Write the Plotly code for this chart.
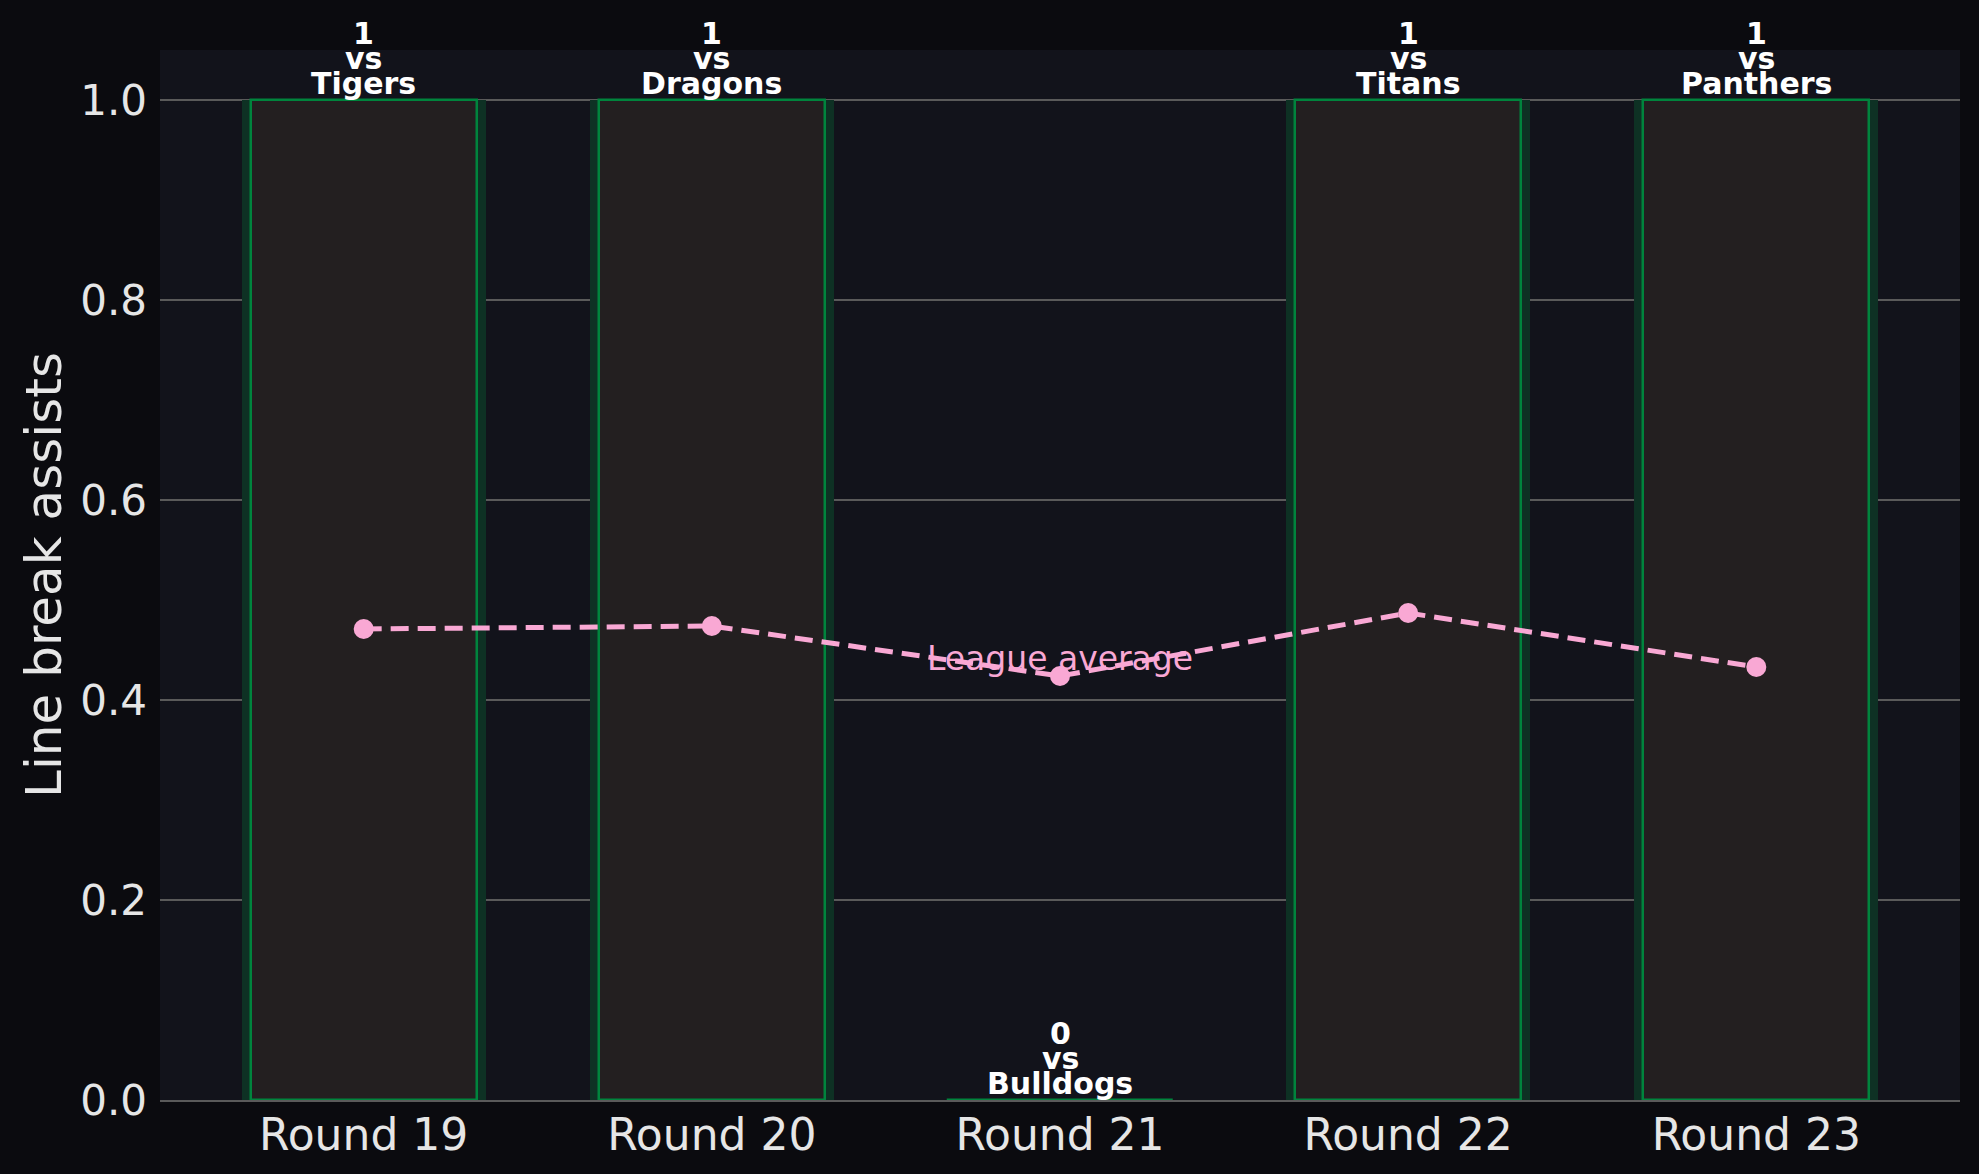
import plotly.graph_objects as go

rounds = ["Round 19", "Round 20", "Round 21", "Round 22", "Round 23"]
opponents = ["Tigers", "Dragons", "Bulldogs", "Titans", "Panthers"]
assists = [1, 1, 0, 1, 1]
league_avg = [0.471, 0.474, 0.424, 0.487, 0.433]

paper_bg = "#0b0b0f"
plot_bg = "#12131b"
bar_fill = "#231f20"
green = "#00843d"
glow = "#0e3124"
pink = "#f9a8d4"
txt = "#e6e6e6"
font_fam = "DejaVu Sans"

fig = go.Figure()

# soft glow behind each bar
fig.add_trace(go.Bar(
    x=rounds, y=assists, width=0.7,
    marker=dict(color=glow, line=dict(width=0)),
    hoverinfo="skip", showlegend=False,
))
fig.add_trace(go.Bar(
    x=rounds, y=assists, width=0.65,
    marker=dict(color=bar_fill, line=dict(width=2.5, color=green)),
    showlegend=False,
))
fig.add_trace(go.Scatter(
    x=rounds, y=league_avg, mode="lines+markers",
    line=dict(color=pink, width=5, dash="18px,9px"),
    marker=dict(size=20, color=pink),
    showlegend=False,
))

# value / opponent labels, one annotation per line
for r, v, opp in zip(rounds, assists, opponents):
    for i, line in enumerate([opp, "vs", str(v)]):
        fig.add_annotation(
            x=r, y=v, text="<b>%s</b>" % line, showarrow=False,
            xanchor="center", yanchor="bottom", yshift=-3 + 25 * i,
            font=dict(family=font_fam, size=30, color="white"),
        )

fig.add_annotation(
    x=rounds[2], y=0.442, text="League average", showarrow=False,
    xanchor="center", yanchor="middle",
    font=dict(family=font_fam, size=33, color=pink),
)

fig.update_layout(
    width=1979, height=1174,
    paper_bgcolor=paper_bg, plot_bgcolor=plot_bg,
    barmode="overlay", bargap=0,
    font=dict(family=font_fam, color=txt, size=42),
    margin=dict(l=160, r=19, t=50, b=74),
)
fig.update_xaxes(
    range=[-0.585, 4.585], showgrid=False, zeroline=False,
    showline=True, linecolor="#5a5a5a", linewidth=2,
    ticks="", ticklabelstandoff=-5, automargin=False,
    tickfont=dict(size=44, color=txt),
)
fig.update_yaxes(
    range=[0, 1.05], tickvals=[0, 0.2, 0.4, 0.6, 0.8, 1.0],
    tickformat=".1f", showgrid=True, gridcolor="#5a5a5a", gridwidth=2,
    zeroline=False, showline=False, ticks="", ticklabelstandoff=12,
    automargin=False, tickfont=dict(size=42, color=txt),
    title=dict(text="Line break assists", font=dict(size=50, color=txt), standoff=2),
)

# drop the page's default body margin so the figure fills the window
fig.write_html(
    "out.html",
    config={"displayModeBar": False},
    post_script="document.body.style.margin='0';"
                "document.body.style.overflow='hidden';"
                "document.body.style.background='%s';" % paper_bg,
)
